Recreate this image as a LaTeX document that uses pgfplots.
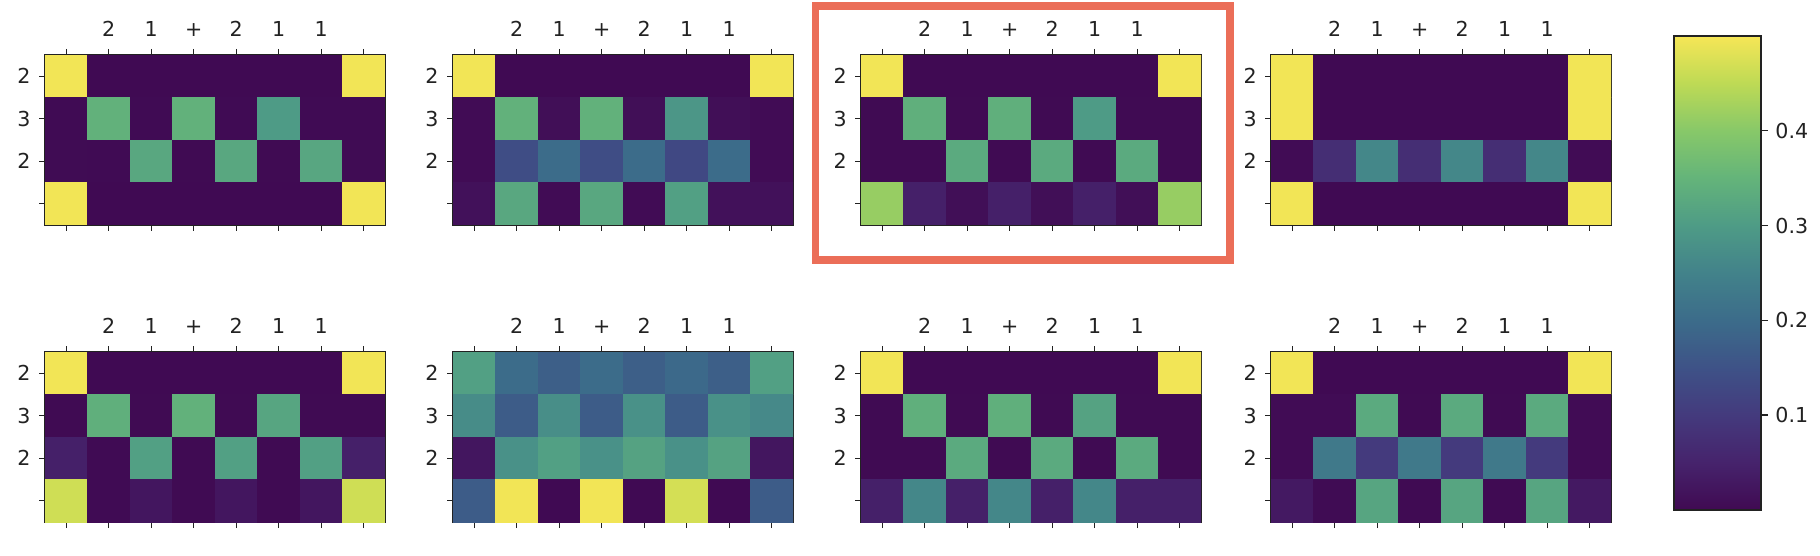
\documentclass[border=0pt]{standalone}
\usepackage{pgfplots}
\pgfplotsset{compat=1.18}
\usepackage{fontspec}
\setmainfont{DejaVu Sans}
\definecolor{redbox}{RGB}{235,110,88}
\definecolor{axcol}{RGB}{34,34,34}
\pgfplotsset{
  colormap={mpl}{rgb255(0cm)=(64,10,82) rgb255(1cm)=(70,35,108) rgb255(2cm)=(68,58,125)
    rgb255(3cm)=(62,82,135) rgb255(4cm)=(60,108,138) rgb255(5cm)=(66,130,138)
    rgb255(6cm)=(78,155,134) rgb255(7cm)=(100,180,122) rgb255(8cm)=(135,200,105)
    rgb255(9cm)=(190,218,85) rgb255(10cm)=(246,230,86)},
  hm/.style={
    scale only axis, width=170pt, height=85pt, anchor=south west,
    xmin=-0.5, xmax=7.5, ymin=-0.5, ymax=3.5, y dir=reverse,
    colormap name=mpl, point meta min=0, point meta max=0.5,
    xtick={0,1,2,3,4,5,6,7}, xticklabels={{},2,1,+,2,1,1,{}},
    xticklabel pos=right, xtick pos=both,
    ytick={0,1,2,3}, yticklabels={2,3,2,{}}, ytick pos=left,
    tick align=outside, major tick length=3pt,
    tick style={axcol, line width=0.7pt},
    axis line style={axcol, line width=0.8pt},
    every tick label/.append style={font=\fontsize{10.3}{12}\selectfont, text=axcol, inner sep=0pt},
    xticklabel shift=6pt, yticklabel shift=4pt,
  },
  hmplot/.style={matrix plot*, mesh/cols=8, point meta=explicit},
}
\begin{document}
\begin{tikzpicture}
\useasboundingbox (0,0) rectangle (910pt,278pt);
% ---- top row ----
\begin{axis}[hm, at={(22.5pt,165.5pt)}]
\addplot[hmplot] coordinates {
(0,0)[0.497] (1,0)[0.001] (2,0)[0.001] (3,0)[0.001] (4,0)[0.001] (5,0)[0.001] (6,0)[0.001] (7,0)[0.497]

(0,1)[0.003] (1,1)[0.345] (2,1)[0.003] (3,1)[0.345] (4,1)[0.003] (5,1)[0.300] (6,1)[0.003] (7,1)[0.003]

(0,2)[0.004] (1,2)[0.003] (2,2)[0.325] (3,2)[0.002] (4,2)[0.325] (5,2)[0.002] (6,2)[0.322] (7,2)[0.004]

(0,3)[0.497] (1,3)[0.001] (2,3)[0.001] (3,3)[0.001] (4,3)[0.001] (5,3)[0.001] (6,3)[0.001] (7,3)[0.497]
};
\end{axis}
\begin{axis}[hm, at={(226.5pt,165.5pt)}]
\addplot[hmplot] coordinates {
(0,0)[0.497] (1,0)[0.001] (2,0)[0.001] (3,0)[0.001] (4,0)[0.001] (5,0)[0.001] (6,0)[0.001] (7,0)[0.497]

(0,1)[0.005] (1,1)[0.345] (2,1)[0.010] (3,1)[0.345] (4,1)[0.010] (5,1)[0.290] (6,1)[0.010] (7,1)[0.005]

(0,2)[0.005] (1,2)[0.140] (2,2)[0.200] (3,2)[0.140] (4,2)[0.200] (5,2)[0.130] (6,2)[0.200] (7,2)[0.005]

(0,3)[0.015] (1,3)[0.325] (2,3)[0.005] (3,3)[0.325] (4,3)[0.005] (5,3)[0.310] (6,3)[0.015] (7,3)[0.015]
};
\end{axis}
\begin{axis}[hm, at={(430.5pt,165.5pt)}]
\addplot[hmplot] coordinates {
(0,0)[0.497] (1,0)[0.001] (2,0)[0.001] (3,0)[0.001] (4,0)[0.001] (5,0)[0.001] (6,0)[0.001] (7,0)[0.497]

(0,1)[0.002] (1,1)[0.340] (2,1)[0.002] (3,1)[0.340] (4,1)[0.002] (5,1)[0.300] (6,1)[0.002] (7,1)[0.002]

(0,2)[0.002] (1,2)[0.002] (2,2)[0.330] (3,2)[0.002] (4,2)[0.330] (5,2)[0.002] (6,2)[0.330] (7,2)[0.002]

(0,3)[0.415] (1,3)[0.045] (2,3)[0.010] (3,3)[0.045] (4,3)[0.010] (5,3)[0.045] (6,3)[0.010] (7,3)[0.415]
};
\end{axis}
\begin{axis}[hm, at={(635.5pt,165.5pt)}]
\addplot[hmplot] coordinates {
(0,0)[0.497] (1,0)[0.001] (2,0)[0.001] (3,0)[0.001] (4,0)[0.001] (5,0)[0.001] (6,0)[0.001] (7,0)[0.497]

(0,1)[0.497] (1,1)[0.001] (2,1)[0.001] (3,1)[0.001] (4,1)[0.001] (5,1)[0.001] (6,1)[0.001] (7,1)[0.497]

(0,2)[0.005] (1,2)[0.075] (2,2)[0.260] (3,2)[0.075] (4,2)[0.260] (5,2)[0.075] (6,2)[0.260] (7,2)[0.005]

(0,3)[0.497] (1,3)[0.001] (2,3)[0.001] (3,3)[0.001] (4,3)[0.001] (5,3)[0.001] (6,3)[0.001] (7,3)[0.497]
};
\end{axis}
% ---- bottom row ----
\begin{axis}[hm, at={(22.5pt,17pt)}]
\addplot[hmplot] coordinates {
(0,0)[0.497] (1,0)[0.001] (2,0)[0.001] (3,0)[0.001] (4,0)[0.001] (5,0)[0.001] (6,0)[0.001] (7,0)[0.497]

(0,1)[0.002] (1,1)[0.340] (2,1)[0.002] (3,1)[0.345] (4,1)[0.002] (5,1)[0.320] (6,1)[0.002] (7,1)[0.002]

(0,2)[0.045] (1,2)[0.003] (2,2)[0.310] (3,2)[0.002] (4,2)[0.310] (5,2)[0.002] (6,2)[0.310] (7,2)[0.045]

(0,3)[0.465] (1,3)[0.003] (2,3)[0.025] (3,3)[0.002] (4,3)[0.025] (5,3)[0.002] (6,3)[0.025] (7,3)[0.465]
};
\end{axis}
\begin{axis}[hm, at={(226.5pt,17pt)}]
\addplot[hmplot] coordinates {
(0,0)[0.310] (1,0)[0.200] (2,0)[0.175] (3,0)[0.200] (4,0)[0.175] (5,0)[0.195] (6,0)[0.175] (7,0)[0.310]

(0,1)[0.270] (1,1)[0.170] (2,1)[0.275] (3,1)[0.170] (4,1)[0.280] (5,1)[0.170] (6,1)[0.280] (7,1)[0.265]

(0,2)[0.025] (1,2)[0.280] (2,2)[0.310] (3,2)[0.280] (4,2)[0.315] (5,2)[0.280] (6,2)[0.315] (7,2)[0.025]

(0,3)[0.170] (1,3)[0.497] (2,3)[0.001] (3,3)[0.497] (4,3)[0.001] (5,3)[0.470] (6,3)[0.001] (7,3)[0.170]
};
\end{axis}
\begin{axis}[hm, at={(430.5pt,17pt)}]
\addplot[hmplot] coordinates {
(0,0)[0.497] (1,0)[0.001] (2,0)[0.001] (3,0)[0.001] (4,0)[0.001] (5,0)[0.001] (6,0)[0.001] (7,0)[0.497]

(0,1)[0.002] (1,1)[0.340] (2,1)[0.002] (3,1)[0.340] (4,1)[0.002] (5,1)[0.315] (6,1)[0.002] (7,1)[0.002]

(0,2)[0.002] (1,2)[0.002] (2,2)[0.330] (3,2)[0.002] (4,2)[0.330] (5,2)[0.002] (6,2)[0.330] (7,2)[0.002]

(0,3)[0.045] (1,3)[0.260] (2,3)[0.045] (3,3)[0.260] (4,3)[0.045] (5,3)[0.260] (6,3)[0.045] (7,3)[0.045]
};
\end{axis}
\begin{axis}[hm, at={(635.5pt,17pt)}]
\addplot[hmplot] coordinates {
(0,0)[0.497] (1,0)[0.001] (2,0)[0.001] (3,0)[0.001] (4,0)[0.001] (5,0)[0.001] (6,0)[0.001] (7,0)[0.497]

(0,1)[0.005] (1,1)[0.005] (2,1)[0.330] (3,1)[0.002] (4,1)[0.330] (5,1)[0.002] (6,1)[0.330] (7,1)[0.005]

(0,2)[0.005] (1,2)[0.230] (2,2)[0.100] (3,2)[0.230] (4,2)[0.100] (5,2)[0.230] (6,2)[0.100] (7,2)[0.005]

(0,3)[0.030] (1,3)[0.004] (2,3)[0.320] (3,3)[0.002] (4,3)[0.320] (5,3)[0.002] (6,3)[0.320] (7,3)[0.030]
};
\end{axis}
% ---- colorbar (its own axis) ----
\begin{axis}[at={(837pt,23pt)}, anchor=south west, scale only axis,
  width=43.5pt, height=237pt,
  xmin=0, xmax=1, ymin=0, ymax=0.5, xtick=\empty,
  colormap name=mpl, point meta min=0, point meta max=0.5,
  ytick={0.1,0.2,0.3,0.4}, ytick pos=right, yticklabel pos=right,
  tick align=outside, major tick length=3.5pt,
  tick style={axcol, line width=0.7pt},
  axis line style={axcol, line width=0.8pt},
  axis on top,
  yticklabel style={font=\fontsize{10.3}{12}\selectfont, text=axcol, inner sep=0pt,
    /pgf/number format/fixed, /pgf/number format/precision=1,
    /pgf/number format/fixed zerofill, /pgf/number format/assume math mode=true},
  yticklabel shift=3.5pt]
\addplot[surf, shader=interp, point meta=y, mesh/cols=2] coordinates {
(0,0) (1,0)
(0,0.05) (1,0.05)
(0,0.1) (1,0.1)
(0,0.15) (1,0.15)
(0,0.2) (1,0.2)
(0,0.25) (1,0.25)
(0,0.3) (1,0.3)
(0,0.35) (1,0.35)
(0,0.4) (1,0.4)
(0,0.45) (1,0.45)
(0,0.5) (1,0.5)
};
\end{axis}
% ---- highlight box ----
\draw[redbox, line width=3.8pt] (407.75pt,148pt) rectangle (615pt,275pt);
\end{tikzpicture}
\end{document}
